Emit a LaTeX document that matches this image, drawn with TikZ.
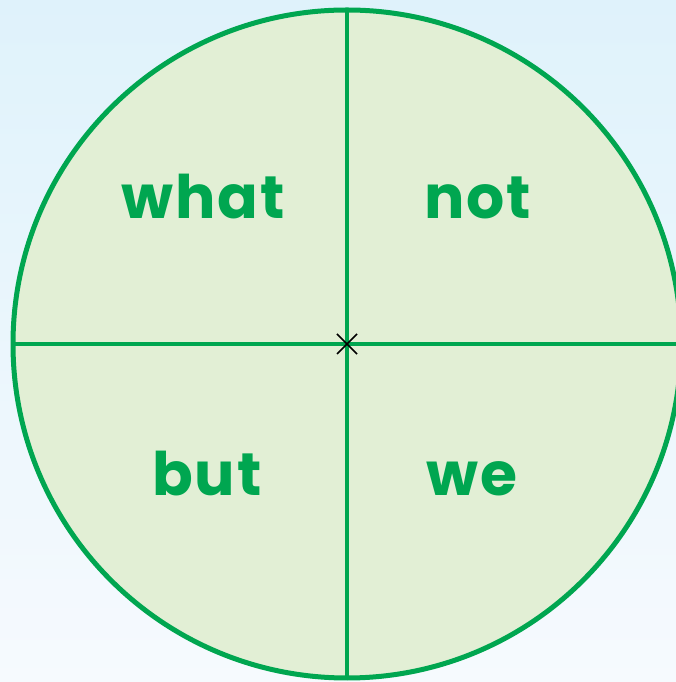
\documentclass[tikz,border=0pt]{standalone}
\usepackage{fontspec}
\usetikzlibrary{calc}
\newfontfamily\popb{Poppins}[LetterSpace=3]
\begin{document}
\begin{tikzpicture}[x=1pt,y=1pt,
  word/.style={text=gr,font=\popb\bfseries\fontsize{60}{60}\selectfont,anchor=base,inner sep=0pt},
  rim/.style={draw=gr,line width=5pt},
  divider/.style={draw=gr,line width=4pt},
  mark/.style={}]
\definecolor{gr}{HTML}{00A650}
\definecolor{fillg}{HTML}{E2EFD5}
\definecolor{bgtop}{HTML}{DFF2FB}
\definecolor{bgbot}{HTML}{F6FAFE}
\useasboundingbox (0,0) rectangle (676,682);
\clip (0,0) rectangle (676,682);
\shade[top color=bgtop,bottom color=bgbot] (0,0) rectangle (676,682);
\coordinate (c) at (347,338);
\fill[fillg] (c) circle (334);
\coordinate (top) at (347,672);
\coordinate (bot) at (347,4);
\coordinate (lft) at (13,338);
\coordinate (rgt) at (680,338);
\draw[divider] (top) -- (bot);
\draw[divider] (lft) -- (rgt);
\draw[rim] (c) circle (334);
\draw[black,line width=1.6pt] ($(c)+(-10,-10)$) -- ($(c)+(10,10)$);
\draw[black,line width=1.6pt] ($(c)+(-10,10)$) -- ($(c)+(10,-10)$);
\node[word] (w1) at (203,463) {what};
\node[word] (w2) at (478,463) {not};
\node[word] (w3) at (207,186) {but};
\node[word] (w4) at (472,186) {we};
\end{tikzpicture}
\end{document}
